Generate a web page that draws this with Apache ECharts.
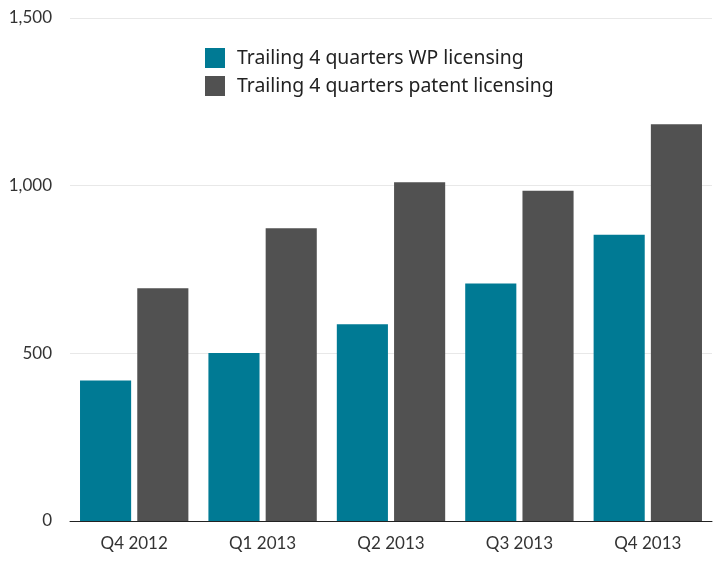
<!DOCTYPE html>
<html><head><meta charset="utf-8">
<script src="https://cdn.jsdelivr.net/npm/echarts@6/dist/echarts.min.js"></script>
<style>html,body{margin:0;padding:0;background:#fff}#c{width:726px;height:564px}</style>
</head><body><div id="c"></div>
<script>
const categories = ['Q4 2012', 'Q1 2013', 'Q2 2013', 'Q3 2013', 'Q4 2013'];
const wpLicensing = [419, 501, 587, 708, 854];
const patentLicensing = [694, 873, 1010, 985, 1183];
const seriesNames = ['Trailing 4 quarters WP licensing', 'Trailing 4 quarters patent licensing'];
const yTicks = [0, 500, 1000, 1500];

const chart = echarts.init(document.getElementById('c'), null, {renderer: 'canvas'});
chart.setOption({
  animation: false,
  backgroundColor: '#fff',
  grid: {left: 70, right: 14, top: 18, bottom: 43, containLabel: false},
  legend: {
    orient: 'vertical', left: 205, top: 48, icon: 'rect', padding: 0,
    itemWidth: 20, itemHeight: 20, itemGap: 8,
    textStyle: {fontFamily: 'Noto Sans', fontSize: 19.4, color: '#222', padding: [0, 0, 0, 7]},
    data: seriesNames
  },
  xAxis: {
    type: 'category', data: categories,
    axisLine: {lineStyle: {color: '#222', width: 1}},
    axisTick: {show: false},
    axisLabel: {fontFamily: 'Lato', fontSize: 17, color: '#333', margin: 14}
  },
  yAxis: {
    type: 'value', min: yTicks[0], max: yTicks[yTicks.length - 1], interval: 500,
    axisLine: {show: false}, axisTick: {show: false},
    splitLine: {lineStyle: {color: '#e8e8e8'}},
    axisLabel: {fontFamily: 'Lato', fontSize: 17, color: '#333', margin: 18,
      formatter: v => v.toLocaleString('en-US')}
  },
  series: [
    {name: seriesNames[0], type: 'bar', data: wpLicensing, itemStyle: {color: '#007A94'},
     barGap: '12%', barCategoryGap: '15.6%'},
    {name: seriesNames[1], type: 'bar', data: patentLicensing, itemStyle: {color: '#515151'}}
  ]
});
</script></body></html>
